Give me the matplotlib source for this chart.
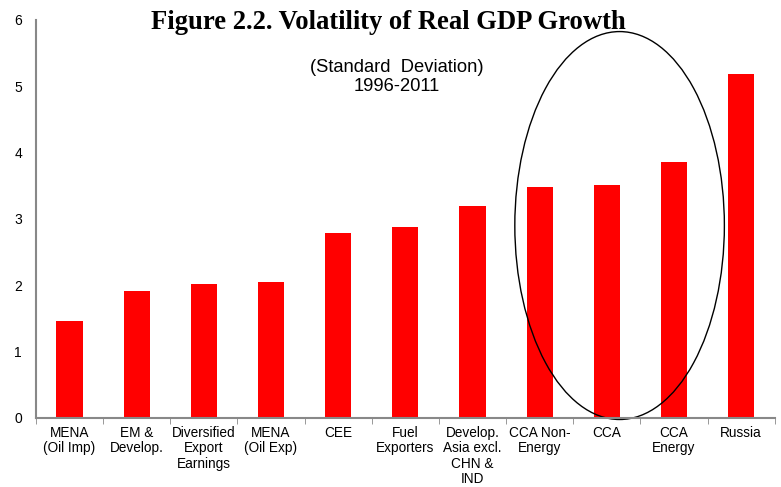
import matplotlib.pyplot as plt
from matplotlib.patches import Ellipse
import numpy as np

categories = ['MENA\n(Oil Imp)', 'EM &\nDevelop.', 'Diversified\nExport\nEarnings',
              'MENA\n(Oil Exp)', 'CEE', 'Fuel\nExporters',
              'Develop.\nAsia excl.\nCHN &\nIND', 'CCA Non-\nEnergy', 'CCA',
              'CCA\nEnergy', 'Russia']
volatility = [1.46, 1.92, 2.02, 2.05, 2.79, 2.88, 3.20, 3.48, 3.51, 3.86, 5.19]

plt.rcParams['font.family'] = ['Liberation Sans', 'DejaVu Sans']

fig = plt.figure(figsize=(7.81, 4.87), dpi=100)
ax = fig.add_axes([0.046, 0.142, 0.946, 0.817])

x = np.arange(len(categories))
ax.bar(x, volatility, width=0.39, color='#ff0000')

ax.set_xlim(-0.5, len(categories) - 0.5)
ax.set_ylim(0, 6)
ax.set_yticks(range(0, 7))
ax.tick_params(axis='y', length=0, labelsize=10, pad=10)

ax.set_xticks(x)
ax.set_xticklabels(categories, fontsize=9.8, linespacing=1.12)
ax.set_xticks(np.arange(-0.5, len(categories)), minor=True)
ax.tick_params(axis='x', which='major', length=0, pad=6)
ax.tick_params(axis='x', which='minor', length=4, color='#888888')

for side in ['top', 'right']:
    ax.spines[side].set_visible(False)
for side in ['left', 'bottom']:
    ax.spines[side].set_color('#888888')
    ax.spines[side].set_linewidth(1.5)

# circle highlighting the CCA groups
ax.add_patch(Ellipse((8.19, 2.9), 3.12, 5.85, fill=False, edgecolor='black',
                     linewidth=1.0, clip_on=False))

fig.text(0.497, 0.953, 'Figure 2.2. Volatility of Real GDP Growth',
         ha='center', va='center', fontsize=19.2, fontweight='bold',
         family='Liberation Serif')
fig.text(0.508, 0.842, '(Standard  Deviation)\n1996-2011', ha='center', va='center',
         fontsize=13.2, linespacing=1.15)

fig.savefig('out.png', dpi=100)
